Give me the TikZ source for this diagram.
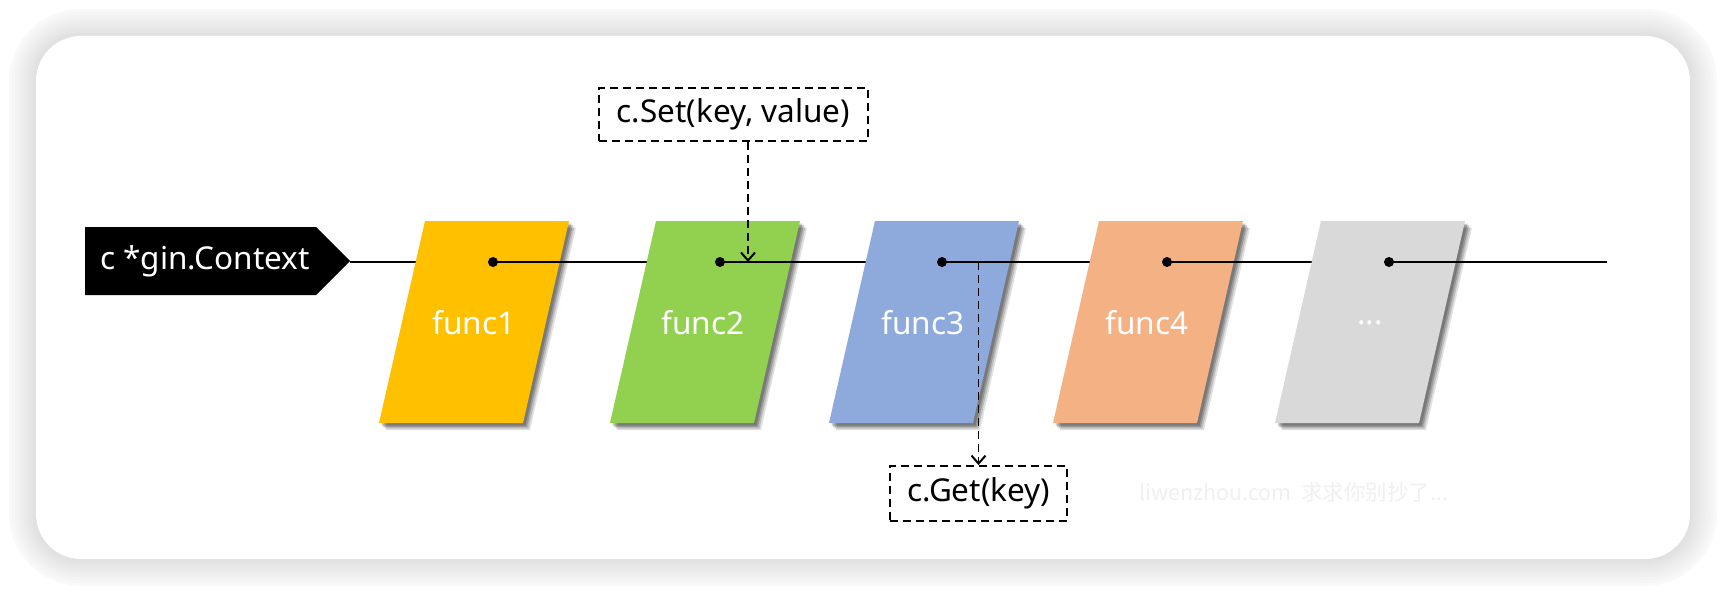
\documentclass[tikz,border=0pt]{standalone}
\usepackage{fontspec}
\setmainfont{Noto Sans}
\newfontfamily\cjk{Noto Sans CJK SC}
\usetikzlibrary{shadows,arrows.meta}
\definecolor{cYel}{HTML}{FFC000}
\definecolor{cGrn}{HTML}{92D050}
\definecolor{cBlu}{HTML}{8EA9DB}
\definecolor{cOra}{HTML}{F4B183}
\definecolor{cGry}{HTML}{D9D9D9}
\definecolor{wmark}{HTML}{F0F0F0}
\begin{document}
\begin{tikzpicture}[x=1pt,y=-1pt,
  lbl/.style={font=\fontsize{31.5}{36}\selectfont, inner sep=0pt},
  wlbl/.style={lbl,text=white},
  wire/.style={line width=2pt},
  dbox/.style={draw,line width=1.8pt,dash pattern=on 8pt off 5pt,lbl,inner sep=0pt},
  darrow/.style={line width=1.8pt,dash pattern=on 8pt off 5pt,-{Straight Barb[length=8pt,width=14pt,line width=2pt]}},
  pshadow/.style={
    drop shadow={shadow xshift=7pt,shadow yshift=-7pt,opacity=0.12,fill=black},
    drop shadow={shadow xshift=5.5pt,shadow yshift=-5.5pt,opacity=0.15,fill=black},
    drop shadow={shadow xshift=4pt,shadow yshift=-4pt,opacity=0.2,fill=black},
    drop shadow={shadow xshift=2.5pt,shadow yshift=-2.5pt,opacity=0.2,fill=black}}]
\useasboundingbox (0,0) rectangle (1726,596);
\fill[white] (0,0) rectangle (1726,596);
% card shadow
\foreach \i in {0,...,9}{
  \pgfmathsetmacro\o{27-3*\i}
  \pgfmathsetmacro\c{2.5+\i*1.15}
  \pgfmathsetmacro\r{45+\o}
  \fill[black!\c, rounded corners=\r pt] (36-\o,36-\o) rectangle (1690+\o,559+\o);
}
\fill[white, rounded corners=45pt] (36,36) rectangle (1690,559);
% tag
\fill[black] (85,227) -- (316,227) -- (350,261) -- (316,295) -- (85,295) -- cycle;
\node[wlbl] (ctx) at (205,261) {c *gin.Context};
\coordinate (tip) at (350,262);
% dot positions
\coordinate (p1) at (493,262);
\coordinate (p2) at (720,262);
\coordinate (p3) at (942,262);
\coordinate (p4) at (1167,262);
\coordinate (p5) at (1389,262);
\coordinate (pend) at (1607,262);
% wires and function blocks
\draw[wire] (tip) -- (p1);
\fill[cYel,pshadow] (425,221) -- (569,221) -- (523,423) -- (379,423) -- cycle;
\draw[wire] (p1) -- (p2);
\fill[cGrn,pshadow] (656,221) -- (800,221) -- (754,423) -- (610,423) -- cycle;
\draw[wire] (p2) -- (p3);
\fill[cBlu,pshadow] (875,221) -- (1019,221) -- (973,423) -- (829,423) -- cycle;
\draw[wire] (p3) -- (p4);
\fill[cOra,pshadow] (1099,221) -- (1243,221) -- (1197,423) -- (1053,423) -- cycle;
\draw[wire] (p4) -- (p5);
\fill[cGry,pshadow] (1321,221) -- (1465,221) -- (1419,423) -- (1275,423) -- cycle;
\draw[wire] (p5) -- (pend);
\foreach \p in {p1,p2,p3,p4,p5}{\fill[black] (\p) circle (5pt);}
\node[wlbl] (f1) at (474,323) {func1};
\node[wlbl] (f2) at (703,323) {func2};
\node[wlbl] (f3) at (923,323) {func3};
\node[wlbl] (f4) at (1147,323) {func4};
\node[wlbl] (f5) at (1370,323) {...};
% set / get
\node[dbox, minimum width=269pt, minimum height=53pt] (set) at (733.5,114.5) {c.Set(key, value)};
\node[dbox, minimum width=177pt, minimum height=55pt] (get) at (978.5,493.5) {c.Get(key)};
\coordinate (sethit) at (748,262);
\coordinate (getfrom) at (978.5,262);
\draw[darrow] (set.south -| sethit) -- (sethit);
\draw[darrow] (getfrom) -- (get.north);
% watermark
\node[anchor=west, text=wmark, font=\cjk\fontsize{21.5}{25}\selectfont, inner sep=0pt] (wm) at (1139,492) {liwenzhou.com\ \ 求求你别抄了...};
\end{tikzpicture}
\end{document}
